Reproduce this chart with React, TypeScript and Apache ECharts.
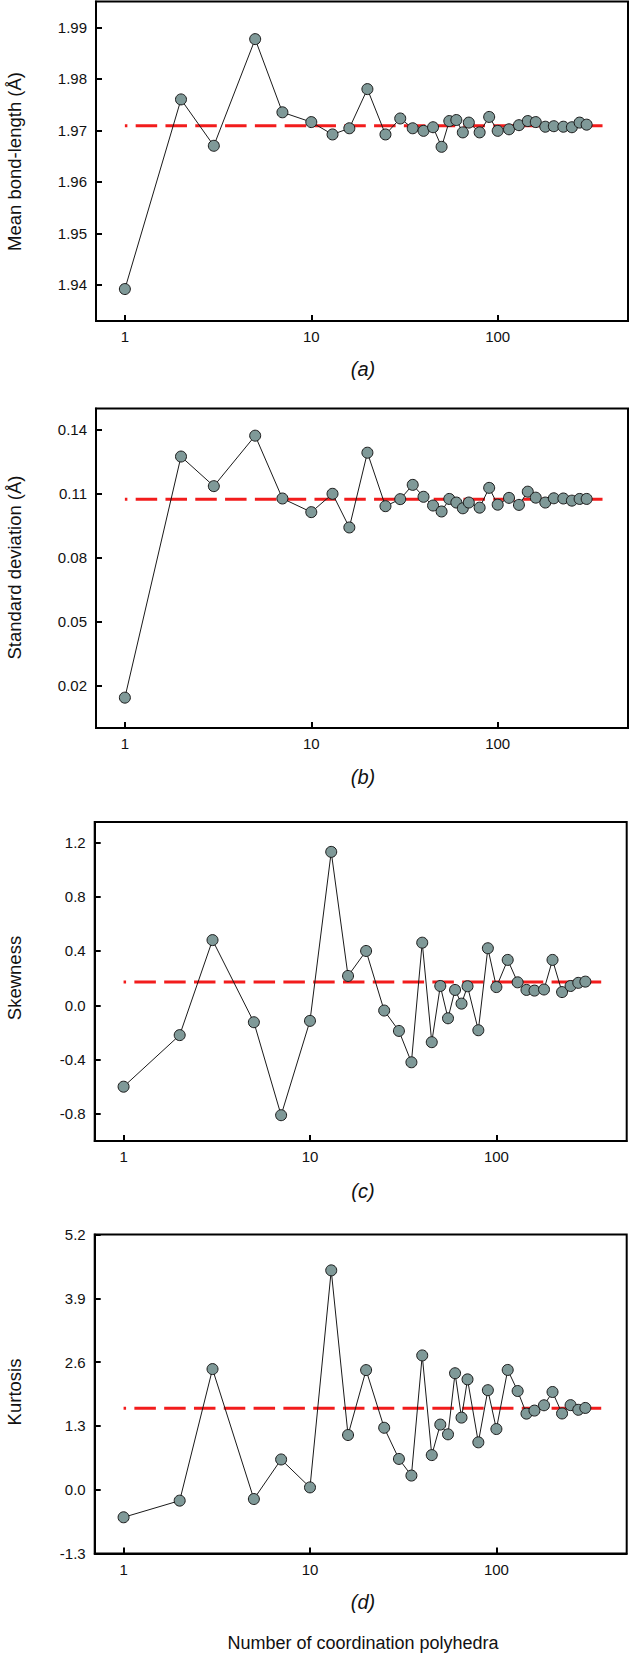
import React, { useEffect, useRef } from "react";
import * as echarts from "echarts";

// ---------- data ----------
const xValues = [1, 2, 3, 5, 7, 10, 13, 16, 20, 25, 30, 35, 40, 45, 50, 55, 60, 65, 70, 80, 90, 100, 115, 130, 145, 160, 180, 200, 225, 250, 275, 300];

const meanBondLength = [
  1.9392, 1.976, 1.967, 1.9877, 1.9735, 1.9716, 1.9692, 1.9704, 1.978, 1.9692, 1.9723, 1.9704, 1.9699, 1.9706, 1.9668, 1.9718,
  1.972, 1.9696, 1.9715, 1.9696, 1.9726, 1.9699, 1.9702, 1.971, 1.9718, 1.9716, 1.9707, 1.9708, 1.9707, 1.9706, 1.9715, 1.9711,
];

const standardDeviation = [
  0.0142, 0.1274, 0.1135, 0.1372, 0.1077, 0.1013, 0.1099, 0.0941, 0.1292, 0.1041, 0.1074, 0.1141, 0.1085, 0.1044, 0.1016, 0.1075,
  0.1058, 0.1031, 0.1058, 0.1034, 0.1127, 0.1048, 0.108, 0.1047, 0.1109, 0.1081, 0.1058, 0.1078, 0.1077, 0.1067, 0.1075, 0.1075,
];

const skewness = [
  -0.6, -0.22, 0.48, -0.125, -0.81, -0.115, 1.13, 0.216, 0.4, -0.039, -0.189, -0.42, 0.461, -0.272, 0.142, -0.096,
  0.113, 0.012, 0.14, -0.184, 0.42, 0.134, 0.334, 0.169, 0.113, 0.108, 0.116, 0.334, 0.097, 0.142, 0.165, 0.174,
];

const kurtosis = [
  -0.562, -0.223, 2.458, -0.19, 0.616, 0.047, 4.469, 1.114, 2.437, 1.262, 0.627, 0.288, 2.736, 0.705, 1.327, 1.128,
  2.373, 1.469, 2.248, 0.965, 2.028, 1.236, 2.44, 2.011, 1.55, 1.612, 1.72, 1.991, 1.553, 1.723, 1.628, 1.666,
];

const referenceLineX = [1, 365];
const referenceValues = [1.9709, 0.1074, 0.172, 1.66];

const xTicks = [1, 10, 100];
const yTicksA = [1.94, 1.95, 1.96, 1.97, 1.98, 1.99];
const yTicksB = [0.02, 0.05, 0.08, 0.11, 0.14];
const yTicksC = [-0.8, -0.4, 0, 0.4, 0.8, 1.2];
const yTicksD = [-1.3, 0, 1.3, 2.6, 3.9, 5.2];

const yNames = ["Mean bond-length (Å)", "Standard deviation (Å)", "Skewness", "Kurtosis"];
const captions = ["(a)", "(b)", "(c)", "(d)"];
const xTitle = "Number of coordination polyhedra";

// ---------- layout / style ----------
const FONT = '"Liberation Sans", Arial, Helvetica, sans-serif';
const panels = [
  { values: meanBondLength, ticks: yTicksA, min: 1.933, max: 1.995, dec: 2, left: 96, top: 1.5, height: 319.5 },
  { values: standardDeviation, ticks: yTicksB, min: 0, max: 0.15, dec: 2, left: 96, top: 408.4, height: 319.5 },
  { values: skewness, ticks: yTicksC, min: -1.0, max: 1.35, dec: 1, left: 94.7, top: 822, height: 319 },
  { values: kurtosis, ticks: yTicksD, min: -1.3, max: 5.2, dec: 1, left: 94.7, top: 1234.5, height: 319 },
];
const nameCenters = [161.5, 567.5, 978, 1392];
const captionY = [369.4, 777, 1190.5, 1601.7];

function buildOption() {
  const grid: any[] = [];
  const xAxis: any[] = [];
  const yAxis: any[] = [];
  const series: any[] = [];
  const graphic: any[] = [];
  const axisLineStyle = { color: "#000", width: 2 };

  panels.forEach((p, i) => {
    grid.push({
      left: p.left,
      top: p.top,
      width: 532,
      height: p.height,
      show: true,
      borderColor: "#000",
      borderWidth: 2,
      backgroundColor: "transparent",
    });
    xAxis.push({
      type: "log",
      logBase: 10,
      gridIndex: i,
      min: 0.7,
      max: 500,
      axisLine: { show: true, onZero: false, lineStyle: axisLineStyle },
      axisTick: { show: true, inside: true, length: 6, lineStyle: axisLineStyle, customValues: xTicks },
      axisLabel: {
        customValues: xTicks,
        fontSize: 15,
        color: "#111",
        fontFamily: FONT,
        margin: 8,
        formatter: (v: number) => String(Math.round(v)),
      },
      splitLine: { show: false },
      minorTick: { show: false },
    });
    yAxis.push({
      type: "value",
      gridIndex: i,
      min: p.min,
      max: p.max,
      axisLine: { show: true, onZero: false, lineStyle: axisLineStyle },
      axisTick: { show: true, inside: true, length: 6, lineStyle: axisLineStyle, customValues: p.ticks },
      axisLabel: {
        customValues: p.ticks,
        fontSize: 15,
        color: "#111",
        fontFamily: FONT,
        margin: 9,
        formatter: (v: number) => v.toFixed(p.dec),
      },
      splitLine: { show: false },
    });
    series.push({
      type: "line",
      xAxisIndex: i,
      yAxisIndex: i,
      data: referenceLineX.map((x) => [x, referenceValues[i]]),
      symbol: "none",
      silent: true,
      z: 2,
      lineStyle: { color: "#f21c1c", width: 3, type: [21.5, 8.3], dashOffset: 19 },
    });
    series.push({
      type: "line",
      xAxisIndex: i,
      yAxisIndex: i,
      data: xValues.map((x, j) => [x, p.values[j]]),
      symbol: "circle",
      symbolSize: 11,
      z: 3,
      itemStyle: { color: "#7f9998", borderColor: "#1a1a1a", borderWidth: 1 },
      lineStyle: { color: "#1a1a1a", width: 1 },
    });
    graphic.push({
      type: "text",
      x: 14.5,
      y: nameCenters[i],
      rotation: Math.PI / 2,
      style: {
        text: yNames[i],
        fontSize: 18.5,
        fontFamily: FONT,
        fill: "#111",
        textAlign: "center",
        textVerticalAlign: "middle",
      },
    });
    graphic.push({
      type: "text",
      x: 363,
      y: captionY[i],
      style: {
        text: captions[i],
        fontSize: 20,
        fontStyle: "italic",
        fontFamily: FONT,
        fill: "#111",
        textAlign: "center",
        textVerticalAlign: "middle",
      },
    });
  });

  graphic.push({
    type: "text",
    x: 363,
    y: 1643,
    style: {
      text: xTitle,
      fontSize: 18,
      fontFamily: FONT,
      fill: "#111",
      textAlign: "center",
      textVerticalAlign: "middle",
    },
  });

  return {
    animation: false,
    backgroundColor: "#fff",
    grid,
    xAxis,
    yAxis,
    series,
    graphic,
  };
}

export default function App() {
  const ref = useRef<HTMLDivElement>(null);
  useEffect(() => {
    if (!ref.current) return;
    const chart = echarts.init(ref.current, null, { renderer: "svg" });
    chart.setOption(buildOption());
    return () => chart.dispose();
  }, []);
  return (
    <div
      ref={ref}
      style={{ position: "absolute", left: 0, top: 0, width: 630, height: 1653 }}
    />
  );
}
